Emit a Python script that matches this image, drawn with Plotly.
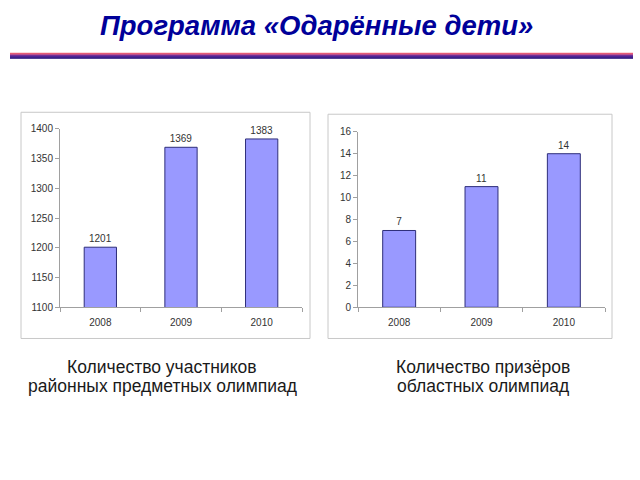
import plotly.graph_objects as go

years = ["2008", "2009", "2010"]
participants = [1201, 1369, 1383]
winners = [7, 11, 14]
left_ticks = [1100, 1150, 1200, 1250, 1300, 1350, 1400]
right_ticks = [0, 2, 4, 6, 8, 10, 12, 14, 16]

title_text = "Программа «Одарённые дети»"
caption_left = ["Количество участников", "районных предметных олимпиад"]
caption_right = ["Количество призёров", "областных олимпиад"]

W, H = 640, 480


def px(x):
    return x / W


def py(y):
    return 1 - y / H


bar_color = "#9999ff"
bar_line = "#2e2e7a"
font_family = "Liberation Sans, Arial, sans-serif"

fig = go.Figure()
fig.add_trace(go.Bar(
    x=years, y=participants, xaxis="x", yaxis="y",
    marker=dict(color=bar_color, line=dict(color=bar_line, width=1)),
    text=[str(v) for v in participants], textposition="outside",
    textfont=dict(size=10, color="#333333", family=font_family),
    cliponaxis=False, showlegend=False, hoverinfo="skip",
))
fig.add_trace(go.Bar(
    x=years, y=winners, xaxis="x2", yaxis="y2",
    marker=dict(color=bar_color, line=dict(color=bar_line, width=1)),
    text=[str(v) for v in winners], textposition="outside",
    textfont=dict(size=10, color="#333333", family=font_family),
    cliponaxis=False, showlegend=False, hoverinfo="skip",
))

axis_common = dict(
    showgrid=False, zeroline=False, showline=True, linecolor="#a0a0a0",
    linewidth=1, ticks="outside", tickcolor="#a0a0a0", ticklen=4,
    tickfont=dict(size=10, color="#333333", family=font_family),
)

fig.update_layout(
    width=W, height=H,
    margin=dict(l=0, r=0, t=0, b=0),
    paper_bgcolor="white", plot_bgcolor="white",
    bargap=0.6,
    xaxis=dict(domain=[px(60), px(302)], anchor="y", type="category",
               tickson="boundaries", ticklabelstandoff=6, fixedrange=True,
               **axis_common),
    yaxis=dict(domain=[py(309), py(126)], anchor="x", range=[1100, 1400],
               tickvals=left_ticks, fixedrange=True, **axis_common),
    xaxis2=dict(domain=[px(358), px(605)], anchor="y2", type="category",
                tickson="boundaries", ticklabelstandoff=6, fixedrange=True,
                **axis_common),
    yaxis2=dict(domain=[py(309), py(129)], anchor="x2", range=[0, 16],
                tickvals=right_ticks, fixedrange=True, **axis_common),
)

# Frames around charts
fig.add_shape(type="rect", xref="paper", yref="paper",
              x0=px(21), x1=px(310), y0=py(341), y1=py(109),
              line=dict(color="#c8c8c8", width=1), layer="below")
fig.add_shape(type="rect", xref="paper", yref="paper",
              x0=px(328), x1=px(612), y0=py(341), y1=py(111),
              line=dict(color="#c8c8c8", width=1), layer="below")

# Gradient rule under the title
rule_colors = ["#f26a78", "#c0306e", "#7a1a82", "#4a0a8c", "#2a0082", "#1a0070"]
for i, c in enumerate(rule_colors):
    yy = 48 + i
    fig.add_shape(type="line", xref="paper", yref="paper",
                  x0=px(10), x1=px(633), y0=py(yy + 0.5), y1=py(yy + 0.5),
                  line=dict(color=c, width=1.2))

# Title
fig.add_annotation(xref="paper", yref="paper", x=px(316), y=py(20),
                   text="<b><i>" + title_text + "</i></b>", showarrow=False,
                   font=dict(size=27.5, color="#000099", family=font_family),
                   xanchor="center", yanchor="middle")

# Captions (one annotation per line)
for cx, lines in ((162, caption_left), (483, caption_right)):
    for j, line in enumerate(lines):
        fig.add_annotation(xref="paper", yref="paper", x=px(cx), y=py(370 + 20 * j),
                           text=line, showarrow=False,
                           font=dict(size=17.5, color="#1a1a1a", family=font_family),
                           xanchor="center", yanchor="middle")

fig.write_html("out.html", config={"displayModeBar": False})
